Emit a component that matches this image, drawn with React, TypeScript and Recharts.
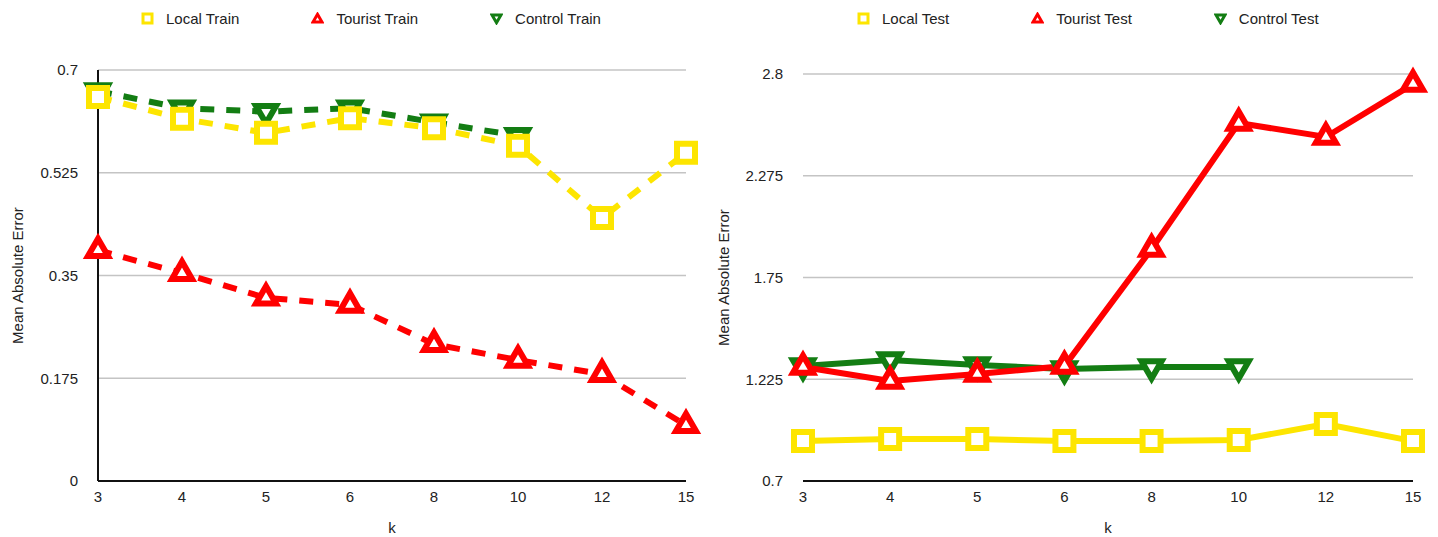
import { LineChart, Line, XAxis, YAxis, CartesianGrid } from "recharts";

const kValues = ["3", "4", "5", "6", "8", "10", "12", "15"];

const localTrain = [0.654, 0.617, 0.593, 0.618, 0.601, 0.571, 0.448, 0.559];
const touristTrain = [0.393, 0.354, 0.312, 0.3, 0.233, 0.206, 0.182, 0.095];
const controlTrain = [0.664, 0.635, 0.629, 0.635, 0.611, 0.588, null, null];

const localTest = [0.906, 0.917, 0.917, 0.906, 0.906, 0.912, 0.994, 0.906];
const touristTest = [1.288, 1.216, 1.252, 1.293, 1.897, 2.547, 2.475, 2.748];
const controlTest = [1.293, 1.324, 1.299, 1.278, 1.288, 1.288, null, null];

const trainTicks = [0, 0.175, 0.35, 0.525, 0.7];
const testTicks = [0.7, 1.225, 1.75, 2.275, 2.8];

const YELLOW = "#fde500";
const RED = "#ff0000";
const GREEN = "#137d13";
const FONT = "'Liberation Sans', Arial, sans-serif";

type Shape = "square" | "up" | "down";

interface SeriesDef {
  key: string;
  name: string;
  color: string;
  shape: Shape;
}

const trainSeries: SeriesDef[] = [
  { key: "control", name: "Control Train", color: GREEN, shape: "down" },
  { key: "local", name: "Local Train", color: YELLOW, shape: "square" },
  { key: "tourist", name: "Tourist Train", color: RED, shape: "up" },
];

const testSeries: SeriesDef[] = [
  { key: "control", name: "Control Test", color: GREEN, shape: "down" },
  { key: "local", name: "Local Test", color: YELLOW, shape: "square" },
  { key: "tourist", name: "Tourist Test", color: RED, shape: "up" },
];

// legend order differs from drawing order
const legendOrder = ["local", "tourist", "control"];

const trainData = kValues.map((k, i) => ({
  k,
  local: localTrain[i],
  tourist: touristTrain[i],
  control: controlTrain[i],
}));

const testData = kValues.map((k, i) => ({
  k,
  local: localTest[i],
  tourist: touristTest[i],
  control: controlTest[i],
}));

const markerPath = (shape: Shape, cx: number, cy: number, s: number) => {
  if (shape === "square") {
    const h = s / 2;
    return `M${cx - h},${cy - h}H${cx + h}V${cy + h}H${cx - h}Z`;
  }
  const h = (s * Math.sqrt(3)) / 2;
  if (shape === "up") {
    return `M${cx},${cy - (2 * h) / 3}L${cx + s / 2},${cy + h / 3}L${cx - s / 2},${cy + h / 3}Z`;
  }
  return `M${cx},${cy + (2 * h) / 3}L${cx + s / 2},${cy - h / 3}L${cx - s / 2},${cy - h / 3}Z`;
};

const makeDot = (shape: Shape, color: string) => (props: any) => {
  const { cx, cy, index } = props;
  if (cx == null || cy == null || props.value == null) return <g key={index} />;
  const size = shape === "square" ? 18 : 20;
  return (
    <path
      key={index}
      d={markerPath(shape, cx, cy, size)}
      fill="#fff"
      stroke={color}
      strokeWidth={6}
      strokeLinejoin="miter"
    />
  );
};

const LegendRow = ({ series, left, gap }: { series: SeriesDef[]; left: number; gap: number }) => {
  const items = legendOrder.map((key) => series.find((s) => s.key === key)!);
  return (
    <div
      style={{
        position: "absolute",
        left,
        top: 10,
        display: "flex",
        alignItems: "center",
        gap,
        fontFamily: FONT,
        fontSize: 15,
        color: "#222",
      }}
    >
      {items.map((s) => (
        <div key={s.key} style={{ display: "flex", alignItems: "center", gap: 12 }}>
          <svg width={13} height={13}>
            <path
              d={markerPath(s.shape, 6.5, s.shape === "square" ? 6.5 : s.shape === "up" ? 7.5 : 5.5, 9)}
              fill="#fff"
              stroke={s.color}
              strokeWidth={3}
            />
          </svg>
          <span>{s.name}</span>
        </div>
      ))}
    </div>
  );
};

const yLabel = (props: any) => {
  const { viewBox, offsetX } = props;
  const x = viewBox.x + offsetX;
  const y = viewBox.y + viewBox.height / 2;
  return (
    <text
      x={x}
      y={y}
      transform={`rotate(-90, ${x}, ${y})`}
      textAnchor="middle"
      dominantBaseline="central"
      fontFamily={FONT}
      fontSize={15}
      fill="#222"
    >
      Mean Absolute Error
    </text>
  );
};

const xLabel = (props: any) => {
  const { viewBox } = props;
  return (
    <text
      x={viewBox.x + viewBox.width / 2}
      y={viewBox.y + 46}
      textAnchor="middle"
      dominantBaseline="central"
      fontFamily={FONT}
      fontSize={15}
      fill="#222"
    >
      k
    </text>
  );
};

interface PanelProps {
  data: any[];
  series: SeriesDef[];
  ticks: number[];
  width: number;
  margin: { top: number; right: number; bottom: number; left: number };
  yWidth: number;
  dashed: boolean;
  showYAxisLine: boolean;
  labelX: number;
}

const Panel = ({ data, series, ticks, width, margin, yWidth, dashed, showYAxisLine, labelX }: PanelProps) => (
  <LineChart width={width} height={537} data={data} margin={margin}>
    <CartesianGrid horizontal vertical={false} stroke="#c4c4c4" strokeWidth={1.5} />
    <XAxis
      dataKey="k"
      type="category"
      tickLine={false}
      axisLine={{ stroke: "#111", strokeWidth: 2 }}
      tickMargin={4}
      height={50}
      tick={{ fontFamily: FONT, fontSize: 15, fill: "#222" }}
      label={xLabel}
    />
    <YAxis
      domain={[ticks[0], ticks[ticks.length - 1]]}
      ticks={ticks}
      interval={0}
      width={yWidth}
      tickLine={false}
      axisLine={showYAxisLine ? { stroke: "#111", strokeWidth: 2 } : false}
      tickMargin={14}
      tick={{ fontFamily: FONT, fontSize: 15, fill: "#222" }}
      label={(p: any) => yLabel({ ...p, offsetX: labelX })}
    />
    {series.map((s) => (
      <Line
        key={s.key}
        dataKey={s.key}
        name={s.name}
        type="linear"
        stroke={s.color}
        strokeWidth={6}
        strokeDasharray={dashed ? "14 12" : undefined}
        dot={makeDot(s.shape, s.color)}
        activeDot={false}
        isAnimationActive={false}
      />
    ))}
  </LineChart>
);

export default function App() {
  return (
    <div style={{ position: "absolute", left: 0, top: 0, width: 1438, height: 537, background: "#fff" }}>
      <div style={{ position: "absolute", left: 0, top: 0 }}>
        <Panel
          data={trainData}
          series={trainSeries}
          ticks={trainTicks}
          width={720}
          margin={{ top: 70, right: 34, bottom: 6, left: 0 }}
          yWidth={98}
          dashed
          showYAxisLine
          labelX={17}
        />
      </div>
      <div style={{ position: "absolute", left: 710, top: 0 }}>
        <Panel
          data={testData}
          series={testSeries}
          ticks={testTicks}
          width={728}
          margin={{ top: 74, right: 25, bottom: 6, left: 0 }}
          yWidth={93}
          dashed={false}
          showYAxisLine={false}
          labelX={13}
        />
      </div>
      <LegendRow series={trainSeries} left={141} gap={72} />
      <LegendRow series={testSeries} left={857} gap={82} />
    </div>
  );
}
